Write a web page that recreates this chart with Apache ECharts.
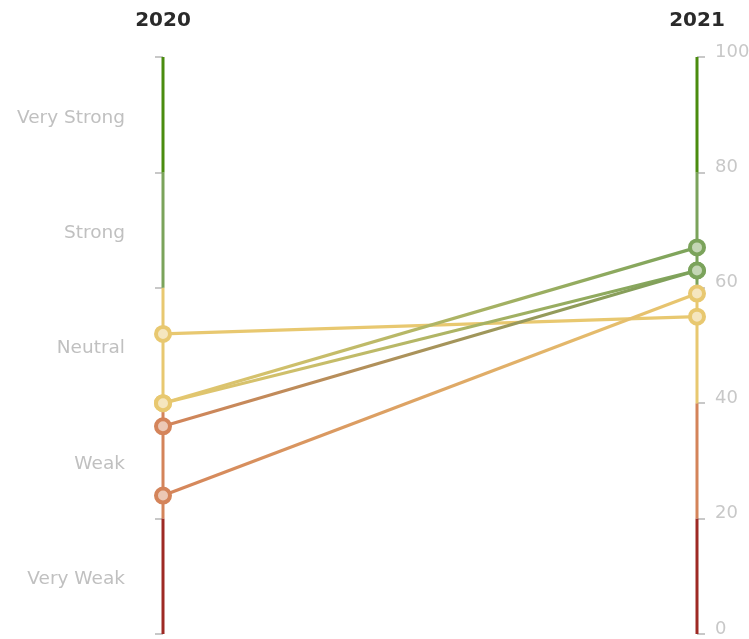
<!DOCTYPE html>
<html><head><meta charset="utf-8">
<script src="https://cdn.jsdelivr.net/npm/echarts@6/dist/echarts.min.js"></script>
<style>html,body{margin:0;padding:0;background:#fff}#c{width:749px;height:639px}</style>
</head><body><div id="c"></div>
<script>
const years = ['2020', '2021'];
const levelLabels = ['Very Weak', 'Weak', 'Neutral', 'Strong', 'Very Strong'];
const bandEdges = [0, 20, 40, 60, 80, 100];
const bandColors = ['#9e2a24', '#d4845a', '#e8c870', '#7ba35b', '#4a8c0f'];
const seriesA = [52, 55];
const seriesB = [40, 67];
const seriesC = [40, 63];
const seriesD = [36, 63];
const seriesE = [24, 59];
const lines = [seriesA, seriesB, seriesC, seriesD, seriesE];

function colorFor(v) {
  for (let i = 0; i < bandColors.length; i++) {
    if (v < bandEdges[i + 1] || i === bandColors.length - 1) return bandColors[i];
  }
}
function lighten(hex, t) {
  const n = parseInt(hex.slice(1), 16);
  const r = (n >> 16) & 255, g = (n >> 8) & 255, b = n & 255;
  const f = c => Math.round(c + (255 - c) * t);
  return 'rgb(' + f(r) + ',' + f(g) + ',' + f(b) + ')';
}

const series = [];
[0, 1].forEach(xi => {
  bandColors.forEach((col, i) => {
    series.push({
      type: 'line', yAxisIndex: 1, z: 1, silent: true, symbol: 'none',
      data: [[xi, bandEdges[i]], [xi, bandEdges[i + 1]]],
      lineStyle: { color: col, width: 3 }
    });
  });
});
lines.forEach(vals => {
  const c0 = colorFor(vals[0]), c1 = colorFor(vals[1]);
  series.push({
    type: 'line', yAxisIndex: 1, z: 5,
    data: vals.map((v, i) => ({
      value: [i, v],
      itemStyle: { color: lighten(colorFor(v), 0.55), borderColor: colorFor(v), borderWidth: 4 }
    })),
    symbol: 'circle', symbolSize: 14,
    lineStyle: {
      width: 3.2,
      color: new echarts.graphic.LinearGradient(0, 0, 1, 0, [
        { offset: 0, color: c0 }, { offset: 1, color: c1 }
      ])
    }
  });
});

const chart = echarts.init(document.getElementById('c'), null, { renderer: 'canvas' });
chart.setOption({
  animation: false,
  grid: { left: 163, right: 52, top: 57, bottom: 5, containLabel: false, outerBoundsMode: 'none' },
  xAxis: {
    type: 'category', data: years, position: 'top', boundaryGap: false,
    axisLine: { show: false }, axisTick: { show: false }, splitLine: { show: false },
    axisLabel: { color: '#2a2a2a', fontSize: 20, fontWeight: 'bold', fontFamily: 'DejaVu Sans', margin: 26 }
  },
  yAxis: [{
    type: 'category', data: levelLabels, position: 'left', boundaryGap: true,
    axisLine: { show: false },
    axisTick: { show: true, length: 8, lineStyle: { color: '#c8c8c8', width: 2 } },
    axisLabel: { color: '#c0c0c0', fontSize: 18.5, fontFamily: 'DejaVu Sans', margin: 38, verticalAlign: 'top', lineHeight: 6 },
    splitLine: { show: false }
  }, {
    type: 'value', position: 'right', min: 0, max: 100, interval: 20,
    axisLine: { show: false },
    axisTick: { show: true, length: 8, lineStyle: { color: '#c8c8c8', width: 2 } },
    axisLabel: { color: '#c8c8c8', fontSize: 18, fontFamily: 'DejaVu Sans', margin: 18, verticalAlign: 'bottom', lineHeight: 10 },
    splitLine: { show: false }
  }],
  series: series
});
</script></body></html>
